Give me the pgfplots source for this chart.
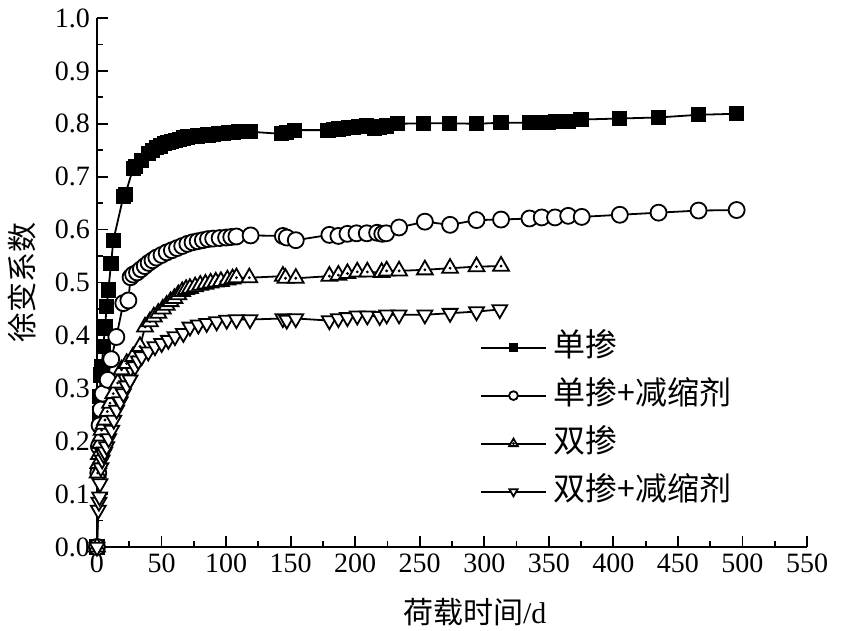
\documentclass[border=0pt]{standalone}
\usepackage{fontspec}
\setmainfont{Liberation Serif}
\newfontfamily\cjk{Noto Sans CJK SC}
\usepackage{pgfplots}
\pgfplotsset{compat=1.18}
\pgfdeclareplotmark{tridot}{%
  \pgfpathmoveto{\pgfqpointpolar{90}{1.2\pgfplotmarksize}}%
  \pgfpathlineto{\pgfqpointpolar{-30}{1.2\pgfplotmarksize}}%
  \pgfpathlineto{\pgfqpointpolar{210}{1.2\pgfplotmarksize}}%
  \pgfpathclose
  \pgfusepathqfillstroke
  \pgfpathcircle{\pgfpointorigin}{0.15pt}\pgfusepathqstroke}
\begin{document}
\begin{tikzpicture}
\useasboundingbox (-48.5pt,-42pt) rectangle (374pt,273.5pt);
\begin{axis}[
  scale only axis, width=355pt, height=264.5pt,
  xmin=0, xmax=550, ymin=0, ymax=1.0,
  axis x line=bottom, axis y line=left,
  axis line style={-, line width=0.9pt},
  tick align=inside,
  major tick length=5.5pt, minor tick length=3pt,
  every tick/.style={black, line width=0.9pt},
  xtick={0,50,...,550}, ytick={0,0.1,...,1.0},
  minor x tick num=1, minor y tick num=1,
  yticklabel style={/pgf/number format/.cd, fixed, fixed zerofill, precision=1},
  /pgf/number format/assume math mode=true,
  tick label style={font=\fontsize{14}{14}\selectfont},
  xlabel={\cjk 荷载时间\rmfamily/d},
  ylabel={\cjk 徐变系数},
  xlabel style={at={(axis description cs:0.532,-0.123)}, anchor=center, font=\fontsize{15}{15}\selectfont},
  ylabel style={at={(axis description cs:-0.1056,0.5)}, anchor=center, rotate=0, font=\fontsize{15}{15}\selectfont},
  clip=false,
  every axis plot/.append style={line width=0.9pt, black},
  legend style={draw=none, fill=none, at={(axis description cs:0.539,0.406)}, anchor=north west,
    font=\fontsize{16}{16}\selectfont, row sep=9pt, inner sep=0pt,
    nodes={inner sep=0pt, text height=12pt, text depth=3pt},
    /tikz/every even column/.append style={column sep=0pt}},
  legend cell align=left,
  legend image code/.code={%
    \draw[#1, mark=none] (0pt,0pt) -- (32.5pt,0pt);
    \draw[#1, every mark/.append style={scale=0.55}] plot coordinates {(16.25pt,0pt)};
    \path (36pt,0pt);
  },
]
\addplot[mark=square*, mark size=3.5pt, mark options={fill=black, line width=0.6pt}] coordinates {
(0,0) (1.8,0.253) (2.3,0.284) (2.8,0.325) (3.6,0.341) (4.9,0.379) (6.2,0.416) (7.5,0.454)
(8.8,0.486) (10.9,0.536) (12.7,0.58) (20.4,0.662) (22,0.667) (28,0.716) (30,0.72)
(34.6,0.731) (39.7,0.744) (43,0.75) (46,0.755) (49,0.758) (52,0.762) (55,0.765) (58,0.767)
(61,0.769) (64,0.771) (67,0.773) (70,0.775) (74,0.776) (78,0.777) (82,0.778) (86,0.779)
(90,0.780) (94,0.781) (98,0.782) (102,0.783) (106,0.784) (110,0.785) (114,0.785) (118.5,0.785)
(143,0.781) (147,0.784) (153,0.788) (179,0.788) (183,0.789) (187,0.79) (191,0.791) (195,0.793)
(199,0.793) (203,0.795) (209,0.796) (215,0.792) (219,0.794) (224,0.796) (233,0.8) (253,0.801)
(273,0.801) (294,0.8) (313,0.802) (335,0.802) (340,0.802) (344,0.802) (350,0.803) (355,0.804)
(360,0.804) (365,0.805) (375,0.808) (405,0.81) (435,0.812) (466,0.817) (495.5,0.819)
};
\addlegendentry{\cjk 单掺}
\addplot[mark=*, mark size=4pt, mark options={fill=white, line width=0.9pt}] coordinates {
(0,0) (1,0.14) (1.5,0.19) (2,0.23) (3,0.26) (4.4,0.29) (8.3,0.316) (11,0.355) (15,0.397)
(20.4,0.461) (24.3,0.466) (26,0.51) (28,0.515) (31,0.519) (34,0.525) (37,0.531) (40,0.537)
(43,0.542) (46,0.547) (50,0.552) (54,0.557) (58,0.561) (62,0.565) (66,0.569) (70,0.573)
(74,0.576) (78,0.578) (82,0.580) (86,0.582) (90,0.583) (95,0.584) (100,0.585) (104,0.586)
(108,0.587) (119,0.589) (144,0.588) (147,0.585) (154,0.580) (180,0.590) (187,0.588)
(194,0.592) (201,0.593) (209,0.593) (217,0.594) (221,0.592) (224,0.593) (234,0.604)
(254,0.615) (273.5,0.609) (294,0.618) (313,0.619) (335,0.621) (344.5,0.623) (354.8,0.623)
(365,0.626) (375.5,0.624) (405,0.628) (435,0.632) (466,0.636) (495.5,0.637)
};
\addlegendentry{\cjk 单掺+减缩剂}
\addplot[mark=tridot, mark size=3.8pt, mark options={fill=white, line width=0.9pt}] coordinates {
(0,0) (0.5,0.14) (1,0.158) (1.5,0.175) (2.3,0.196) (3,0.21) (3.6,0.221) (5,0.232)
(6.2,0.240) (8,0.256) (10.1,0.272) (12.6,0.29) (16,0.31) (19,0.335) (23,0.347) (28,0.36)
(33.3,0.379) (37.2,0.416) (41,0.426) (44,0.435) (47.5,0.442) (51,0.45) (54,0.457) (57,0.464)
(60,0.470) (63,0.477) (66,0.483) (69,0.487) (72,0.489) (76,0.492) (80,0.495) (84,0.497)
(88,0.499) (92,0.501) (96,0.502) (101,0.505) (105,0.507) (108,0.509) (118,0.509)
(144,0.512) (146,0.508) (154,0.508) (180,0.512) (187,0.514) (194,0.517) (201.6,0.520)
(209.4,0.520) (220.5,0.519) (224.4,0.522) (234,0.522) (254,0.524) (273.5,0.527) (294,0.530)
(313,0.531)
};
\addlegendentry{\cjk 双掺}
\addplot[mark=triangle*, mark size=4.3pt, mark options={fill=white, rotate=180, line width=0.9pt}] coordinates {
(0,0) (1,0.07) (1.5,0.085) (2,0.095) (2.3,0.12) (3,0.15) (4,0.165) (5,0.175) (6,0.18)
(7.5,0.19) (9,0.205) (11.4,0.221) (13,0.24) (15.2,0.259) (18,0.275) (20.4,0.29) (23,0.305)
(25.6,0.316) (29.4,0.341) (32,0.352) (34.6,0.360) (39.7,0.369) (44.9,0.379) (50.1,0.385)
(55.3,0.391) (60.4,0.398) (66.9,0.404) (72,0.416) (78.5,0.420) (85,0.423) (92.7,0.426)
(100.5,0.429) (108,0.430) (118.5,0.430) (144,0.432) (147,0.429) (154,0.432) (180,0.428)
(187,0.432) (194,0.434) (201.6,0.437) (209.4,0.437) (219,0.436) (224.4,0.439) (234,0.439)
(254,0.439) (273.5,0.442) (294,0.445) (312,0.449)
};
\addlegendentry{\cjk 双掺+减缩剂}
\end{axis}
\end{tikzpicture}
\end{document}
